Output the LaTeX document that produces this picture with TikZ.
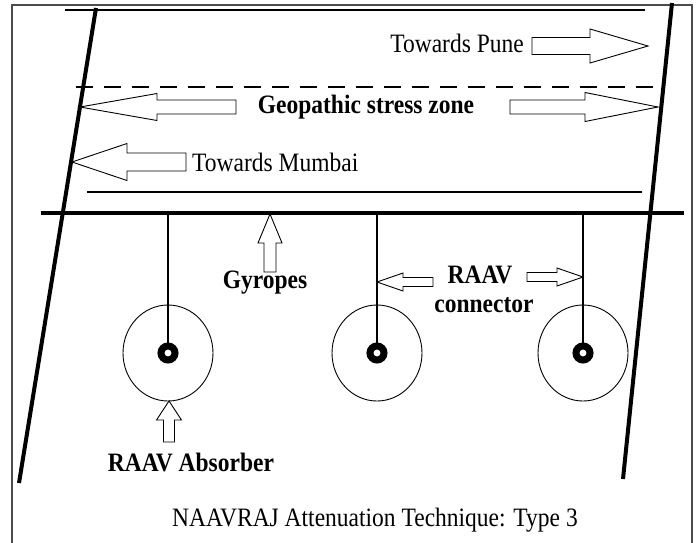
\documentclass[tikz,border=0pt]{standalone}
\usepackage{fontspec}
\setmainfont{Liberation Serif}
\usetikzlibrary{shapes.geometric}
\tikzset{
	plaintext/.style = {inner sep=0pt, yscale=1.13, transform shape, font=\fontsize{23.5}{28}\selectfont},
	boldtext/.style = {plaintext, font=\fontsize{23.5}{28}\selectfont\bfseries},
	thinline/.style = {draw, line width=1.2pt},
	thickline/.style = {draw, line width=4pt},
	lane/.style = {thinline, dash pattern=on 17pt off 11pt},
	frame/.style = {draw=black!70, line width=1.5pt},
	blockarrow/.style = {draw, line width=0.9pt, fill=white, line join=miter},
	absorber/.style = {ellipse, draw, line width=0.9pt, minimum width=90pt, minimum height=96pt, inner sep=0pt},
	hub/.style = {circle, draw, line width=7pt, minimum size=14pt, inner sep=0pt, fill=white}
}
% block arrow: tip, angle, length, head length, shaft half width, head half width
\newcommand{\blockarr}[6]{%
	\draw[blockarrow, shift={#1}, rotate=#2] (0,0) -- (-#4,#6) -- (-#4,#5) -- (-#3,#5) -- (-#3,-#5) -- (-#4,-#5) -- (-#4,-#6) -- cycle;}

\begin{document}
\begin{tikzpicture}[x=1pt, y=-1pt]
	\useasboundingbox (0,0) rectangle (696,542);
	\draw[frame] (12,545) -- (12,5) -- (692,5) -- (692,545);

	% Define the road
	\coordinate (railL) at (41,213);
	\coordinate (railR) at (684,213);
	\path[thinline] (65,10) -- (645,10);
	\path[lane] (76,87) -- (653,87);
	\path[thinline] (87,192) -- (642,192);
	\path[thickline] (railL) -- (railR);
	\path[thickline] (96,8) -- (19,483);
	\path[thickline] (672,3) -- (623,479);

	% Define the labels
	\node (pune) [plaintext, anchor=east] at (524,43) {Towards Pune};
	\node (zone) [boldtext] at (366,107) {Geopathic stress zone};
	\node (mumbai) [plaintext, anchor=west] at (192,162) {Towards Mumbai};
	\node (gyropes) [boldtext] at (265,283) {Gyropes};
	\node (raav) [boldtext] at (480,275) {RAAV};
	\node (connector) [boldtext] at (484,305) {connector};
	\node (absorbertext) [boldtext] at (191,462) {RAAV Absorber};
	\node (caption) [plaintext] at (375,520) {NAAVRAJ Attenuation Technique: Type 3};

	% Define the absorbers
	\foreach \name/\x in {one/168, two/377, three/583} {
		\node (abs\name) [absorber] at (\x,353) {};
		\node (hub\name) [hub] at (\x,353) {};
		\path[thinline] (hub\name) -- (hub\name |- railL);
	}

	% Define the block arrows
	\blockarr{(648,46)}{0}{116}{58}{8.5}{17}
	\blockarr{(80,107)}{180}{156}{77}{7}{13.5}
	\blockarr{(658,107)}{0}{148}{73}{7}{14.5}
	\blockarr{(72,162)}{180}{114}{55}{9}{18.5}
	\blockarr{(270,214)}{90}{58}{29}{6}{12}
	\blockarr{(377,282)}{180}{56}{26}{4.5}{9}
	\blockarr{(583,277)}{0}{56}{26}{4.5}{9}
	\blockarr{(169,401)}{90}{41}{19}{5.5}{12.5}
\end{tikzpicture}
\end{document}
